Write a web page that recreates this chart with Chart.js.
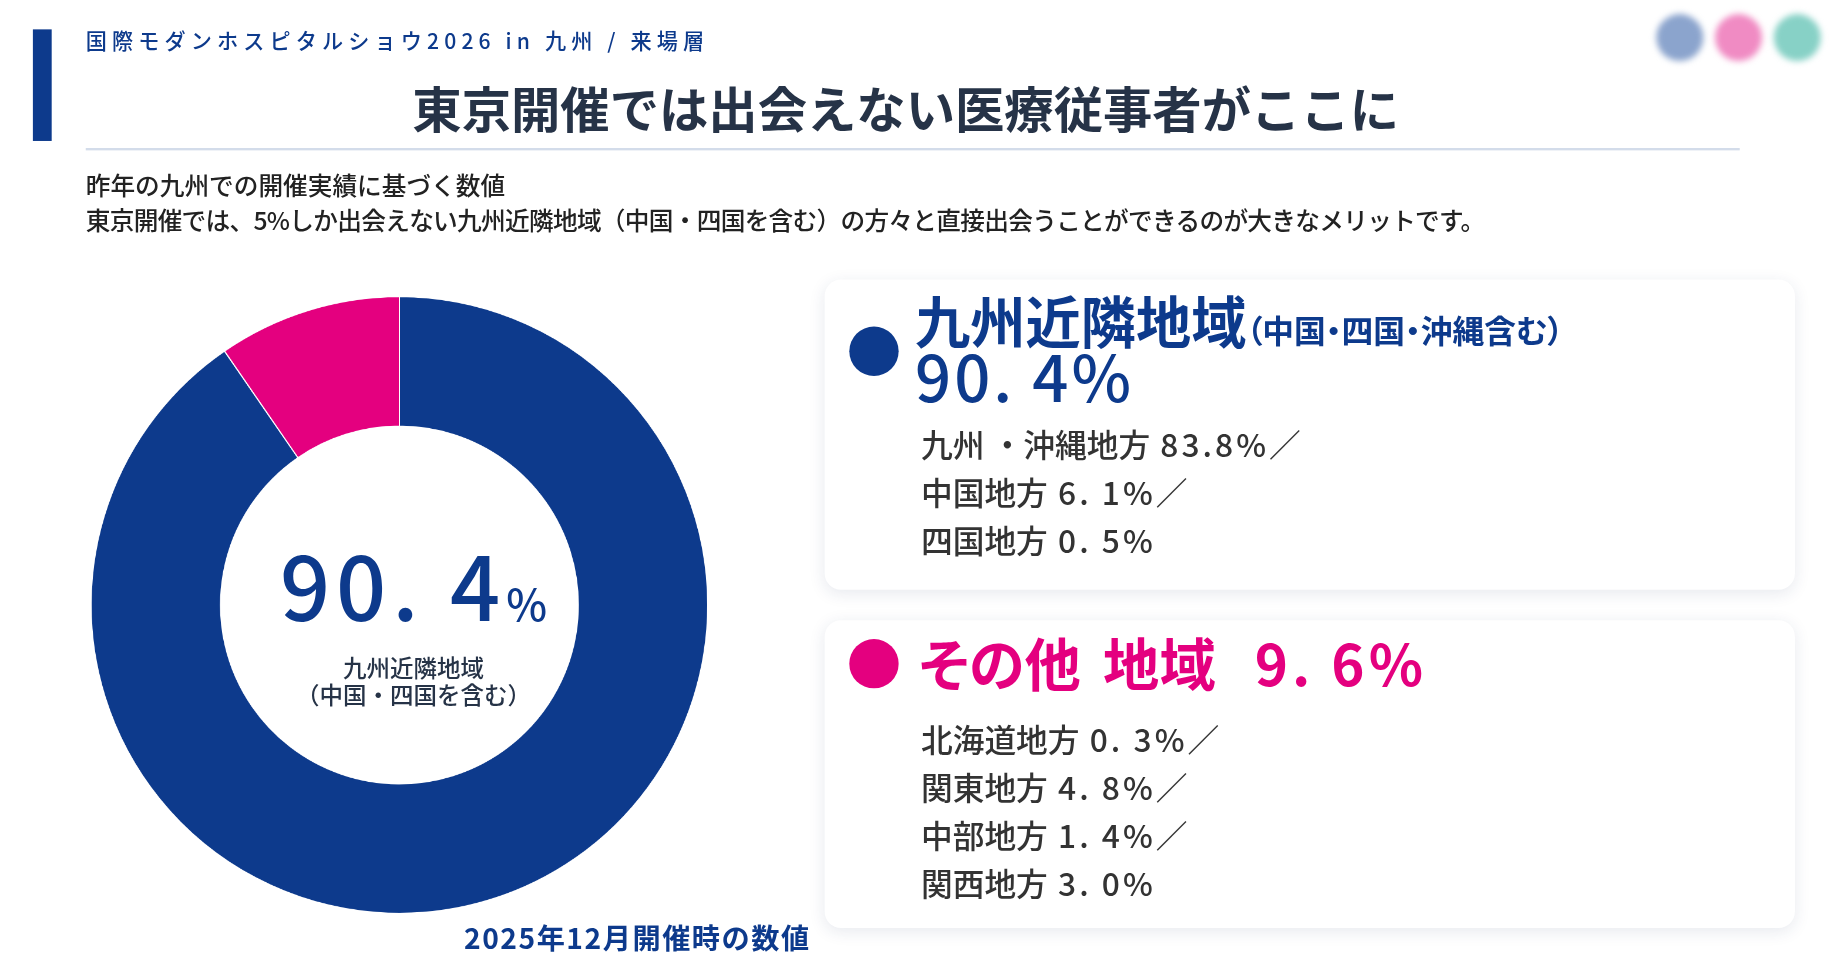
<!DOCTYPE html>
<html lang="ja">
<head>
<meta charset="utf-8">
<script src="https://cdn.jsdelivr.net/npm/chart.js@4.4.1/dist/chart.umd.min.js"></script>
<style>
  html, body { margin: 0; padding: 0; background: #fff; overflow: hidden; }
  body { width: 1842px; height: 972px; font-family: "Noto Sans CJK JP", "Noto Sans", sans-serif; }
  #stage { position: absolute; left: 0; top: 0; width: 1568px; height: 828px; transform: scale(1.1747); transform-origin: 0 0; }
  .bar { position: absolute; left: 28px; top: 25px; width: 16px; height: 95px; background: #0d3a8c; }
  .kicker { position: absolute; left: 73px; top: 21px; font-size: 18px; font-weight: 500; color: #0d3a8c; letter-spacing: 4.35px; white-space: nowrap; }
  .title { position: absolute; left: 0; width: 1542px; top: 60px; text-align: center; font-size: 42px; font-weight: 700; color: #263347; white-space: nowrap; }
  .rule { position: absolute; left: 73px; top: 126px; width: 1408px; height: 2px; background: #d3dcea; }
  .lead { position: absolute; left: 73px; top: 142px; font-size: 21px; line-height: 30px; color: #222; white-space: nowrap; font-weight: 500; }
  .lead span { letter-spacing: -0.6px; }
  .dots { position: absolute; top: 12px; left: 1410px; }
  .dots span { position: absolute; top: 0; width: 40px; height: 40px; border-radius: 50%; filter: blur(2.5px); }
  #chartBox { position: absolute; left: 77px; top: 252px; width: 526px; height: 526px; }
  .center { position: absolute; left: 89px; top: 252px; width: 526px; height: 526px; pointer-events: none; }
  .center .big { position: absolute; left: 0; width: 100%; top: 207px; text-align: center; color: #0d3a8c; font-size: 75px; font-weight: 500; line-height: 1; white-space: nowrap; letter-spacing: 5px; }
  .center .big small { font-size: 37px; font-weight: 500; letter-spacing: 0; }
  .center .sub { position: absolute; left: 0; width: 100%; top: 304px; text-align: center; color: #263347; font-size: 20px; line-height: 23px; font-weight: 500; }
  .note { position: absolute; left: 395px; top: 780px; font-size: 24px; font-weight: 700; color: #0d3a8c; white-space: nowrap; letter-spacing: 1.3px; }
  .card { position: absolute; left: 702px; width: 826px; background: #fff; border-radius: 14px; box-shadow: 0 3px 14px rgba(30, 50, 100, 0.10); }
  .card .dot { position: absolute; left: 21px; width: 42px; height: 42px; border-radius: 50%; }
  .card .head { position: absolute; left: 77px; white-space: nowrap; font-weight: 700; }
  .palt { font-feature-settings: "palt"; }
  .card ul { position: absolute; left: 82px; margin: 0; padding: 0; list-style: none; }
  .card li { font-size: 27px; line-height: 41px; color: #333; font-weight: 500; white-space: nowrap; }
  .card li .num { letter-spacing: 2.6px; }
</style>
</head>
<body>
<div id="stage">
  <div class="bar"></div>
  <div class="kicker">国際モダンホスピタルショウ2026 in 九州 / 来場層</div>
  <div class="title">東京開催では出会えない医療従事者がここに</div>
  <div class="rule"></div>
  <div class="lead">昨年の九州での開催実績に基づく数値<br><span>東京開催では、5%しか出会えない九州近隣地域（中国・四国を含む）の方々と直接出会うことができるのが大きなメリットです。</span></div>
  <div class="dots">
    <span style="left:0;background:#8ba4cd"></span>
    <span style="left:50px;background:#f08bc3"></span>
    <span style="left:100px;background:#87d1c6"></span>
  </div>

  <div id="chartBox"><canvas id="donut"></canvas></div>
  <div class="center">
    <div class="big" id="bigValue"></div>
    <div class="sub">九州近隣地域<br>（中国・四国を含む）</div>
  </div>
  <div class="note">2025年12月開催時の数値</div>

  <div class="card" style="top:238px;height:264px;">
    <div class="dot" style="top:40px;background:#0d3a8c"></div>
    <div class="head" style="top:6px;color:#0d3a8c;font-size:47px;line-height:56px;">九州近隣地域<span class="palt" style="font-size:27px;">（中国・四国・沖縄含む）</span></div>
    <div class="head" id="val1" style="top:51px;color:#0d3a8c;font-size:54px;line-height:60px;font-weight:500;letter-spacing:2.5px;"></div>
    <ul id="list1" style="top:119px;"></ul>
  </div>

  <div class="card" style="top:528px;height:262px;">
    <div class="dot" style="top:16px;background:#e4007f"></div>
    <div class="head" id="val2" style="top:2px;left:80px;color:#e4007f;font-size:48px;line-height:66px;"></div>
    <ul id="list2" style="top:80px;"></ul>
  </div>
</div>

<script>
// main split
const regions = ['九州近隣地域', 'その他 地域'];
const shares = [90.4, 9.6];
const regionColors = ['#0d3a8c', '#e4007f'];

// breakdown of each group
const nearLabels = ['九州 ・沖縄地方', '中国地方', '四国地方'];
const nearValues = [83.8, 6.1, 0.5];
const otherLabels = ['北海道地方', '関東地方', '中部地方', '関西地方'];
const otherValues = [0.3, 4.8, 1.4, 3.0];

// the slide spaces out the decimal point everywhere except 83.8
const nearGap = [false, true, true];
const otherGap = [true, true, true, true];

function fmt(v, gap) {
  const s = v.toFixed(1);
  return gap === false ? s : s.replace('.', '. ');
}

function fillList(id, labels, values, gaps) {
  const ul = document.getElementById(id);
  labels.forEach((lab, i) => {
    const li = document.createElement('li');
    const tail = i < labels.length - 1 ? '／' : '';
    li.innerHTML = lab + '<span class="num"> ' + fmt(values[i], gaps[i]) + '%' + tail + '</span>';
    ul.appendChild(li);
  });
}

document.getElementById('bigValue').innerHTML = fmt(shares[0]) + '<small>%</small>';
document.getElementById('val1').textContent = fmt(shares[0]) + '%';
document.getElementById('val2').innerHTML = '<span class="palt" style="word-spacing:8px;">' + regions[1] + '</span>' +
  '<span style="margin-left:33px;letter-spacing:3.5px;">' + fmt(shares[1]) + '%</span>';
fillList('list1', nearLabels, nearValues, nearGap);
fillList('list2', otherLabels, otherValues, otherGap);

new Chart(document.getElementById('donut'), {
  type: 'doughnut',
  data: {
    labels: regions,
    datasets: [{
      data: shares,
      backgroundColor: regionColors,
      borderColor: '#ffffff',
      borderWidth: 1
    }]
  },
  options: {
    responsive: true,
    maintainAspectRatio: false,
    devicePixelRatio: 2,
    animation: false,
    cutout: '58%',
    layout: { padding: 0 },
    plugins: {
      legend: { display: false },
      tooltip: { enabled: false }
    }
  }
});
</script>
</body>
</html>
